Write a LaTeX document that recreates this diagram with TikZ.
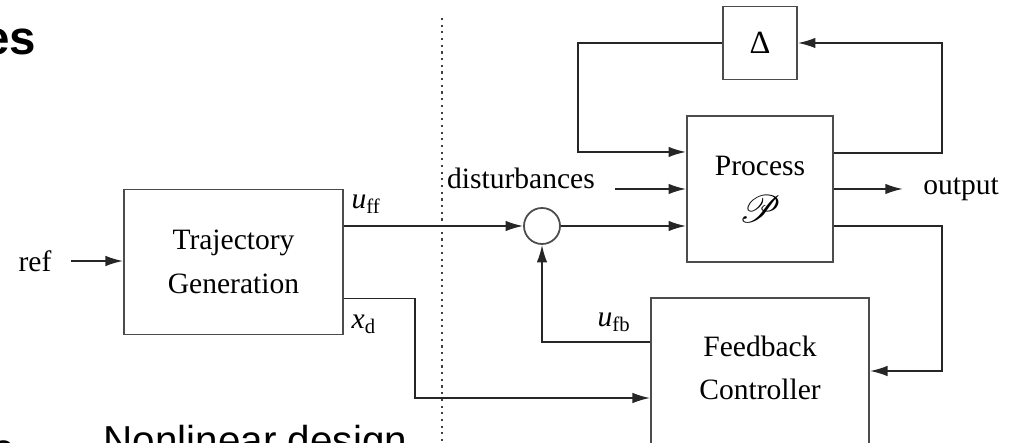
\documentclass[tikz,border=0pt]{standalone}
\usepackage{fontspec}
\usepackage{mathrsfs}
\setmainfont{Liberation Serif}
\newfontfamily\slidefont{Liberation Sans}
\usetikzlibrary{arrows.meta}
\newcommand{\sig}[2]{\textit{#1}\textsubscript{#2}}

\begin{document}
\begin{tikzpicture}[x=0.01cm,y=-0.01cm,font=\fontsize{8.4}{12.4}\selectfont,
  blk/.style={draw=black!70,line width=.5pt,align=center,inner sep=0pt},
  sumpt/.style={draw=black!70,line width=.5pt,circle,minimum size=3.6mm,inner sep=0pt},
  lbl/.style={anchor=base west,inner sep=0pt},
  arr/.style={draw=black!85,line width=.5pt,-{Latex[length=5pt,width=3pt]}},
  slide/.style={inner sep=0pt,font=\slidefont\fontsize{11.5}{14}\selectfont}]
  \fill[white] (0,0) rectangle (1009,443);
  \useasboundingbox (0,0) rectangle (1009,443);
  % slide text around the figure
  \node[anchor=base east,inner sep=0pt,font=\slidefont\fontsize{13.5}{16}\selectfont\bfseries] (ttl) at (37,55) {es};
  \node[slide,anchor=base west] (nl) at (103,455) {Nonlinear design};
  \node[slide,anchor=base east] (frag) at (16,463) {e};
  \draw[black!75,line width=.6pt,dash pattern=on .6pt off 1.3pt] (442,18) -- (442,443);
  % blocks
  \node[blk,minimum width=21.9mm,minimum height=14.5mm] (tg) at (233.5,262) {Trajectory\\Generation};
  \node[blk,minimum width=14.6mm,minimum height=14.6mm] (pr) at (760,189)
    {Process\\[1pt]{\fontsize{10.5}{12}\selectfont$\mathscr{P}$}};
  \node[blk,minimum width=7.4mm,minimum height=7.3mm,font=\fontsize{9.2}{11}\selectfont] (dl) at (760,43) {Δ};
  \node[blk,minimum width=21.8mm,minimum height=20mm] (fb) at (760,398) {};
  \node[align=center] (fbl) at (760,368) {Feedback\\Controller};
  \node[sumpt] (sum) at (542,226) {};
  % signals
  \node (ref) at (35,261) {ref};
  \node (dist) at (521,178) {disturbances};
  \node (out) at (961,189) {output};
  \node[lbl] (uff) at (351,209) {\sig{u}{ff}};
  \node[lbl] (xd) at (351,329) {\sig{x}{d}};
  \node[lbl] (ufb) at (597,327) {\sig{u}{fb}};
  \coordinate (din) at (615,189);
  \coordinate (rt) at (942,43);
  \coordinate (lt) at (578,43);
  \coordinate (rb) at (942,371);
  \coordinate (xc) at (415,398);
  % connections
  \draw[arr,shorten <=.7mm] (ref) -- (ref -| tg.west);
  \draw[arr] (tg.east |- sum) -- (sum);
  \draw[arr] (sum) -- (sum -| pr.west);
  \draw[arr] (din) -- (din -| pr.west);
  \draw[arr,shorten >=.8mm] (pr) -- (out);
  \draw[arr] ([yshift=.36cm]pr.east) -| (rt) -- (dl);
  \draw[arr] (dl) -- (lt) |- ([yshift=.37cm]pr.west);
  \draw[arr] ([yshift=-.37cm]pr.east) -| (rb) -- (rb -| fb.east);
  \draw[arr] ([yshift=-.45cm]fb.north west) -| (sum);
  \draw[arr] ([yshift=-.365cm]tg.east) -| (xc) -- (xc -| fb.west);
\end{tikzpicture}
\end{document}
